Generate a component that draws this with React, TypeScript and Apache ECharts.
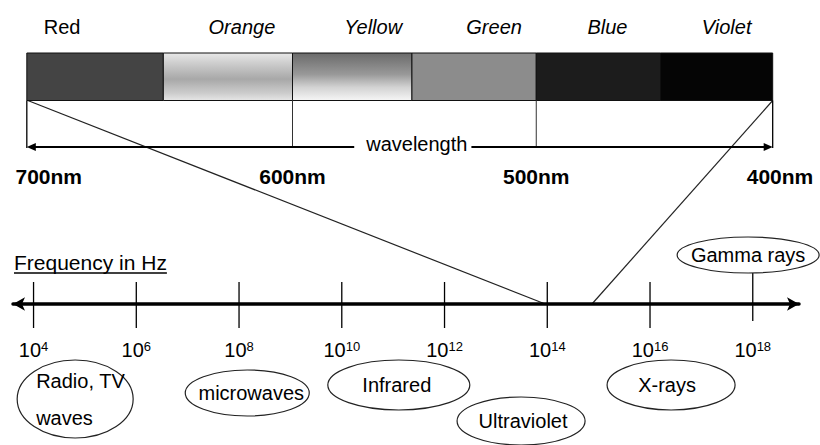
import React, { useEffect, useRef } from "react";
import * as echarts from "echarts";

// ---------- data ----------
const bandNames = ["Red", "Orange", "Yellow", "Green", "Blue", "Violet"];
const bandEdgesNm = [709, 653, 600, 551, 500, 449, 403];
const wavelengthLabelsNm = [700, 600, 500, 400];
const wavelengthDividersNm = [600, 500];
const wavelengthTitle = "wavelength";
const wavelengthTitleAtNm = 549;
const freqTitle = "Frequency in Hz";
const freqExponents = [4, 6, 8, 10, 12, 14, 16, 18];
const regionNames = ["Radio, TV\nwaves", "microwaves", "Infrared", "Ultraviolet", "X-rays", "Gamma rays"];
const regionAtExponent = [4.81, 8.16, 11.11, 13.49, 16.41, 17.91];
const visibleEndsExponent = [13.96, 14.87];

// ---------- styles / layout ----------
const FONT = "'Liberation Sans', Arial, Helvetica, sans-serif";
const bandFills: any[] = [
  "#444444",
  new echarts.graphic.LinearGradient(0, 0, 0, 1, [
    { offset: 0, color: "#e8e8e8" },
    { offset: 0.2, color: "#cfcfcf" },
    { offset: 0.55, color: "#a8a8a8" },
    { offset: 0.85, color: "#cdcdcd" },
    { offset: 1, color: "#e6e6e6" },
  ]),
  new echarts.graphic.LinearGradient(0, 0, 0, 1, [
    { offset: 0, color: "#6a6a6a" },
    { offset: 0.45, color: "#999999" },
    { offset: 0.72, color: "#d2d2d2" },
    { offset: 1, color: "#f6f6f6" },
  ]),
  "#8c8c8c",
  "#1c1c1c",
  "#050505",
];
const bandLabelItalic = [false, true, true, true, true, true];
const bandLabelDx = [-33, 14, 21, 20, 9, 10];
const regionStyle = [
  { dy: 95, rx: 58, ry: 39, tx: -39, align: "left" },
  { dy: 89, rx: 62, ry: 23, tx: 4, align: "center" },
  { dy: 81, rx: 71, ry: 25, tx: -2, align: "center" },
  { dy: 117, rx: 64, ry: 24, tx: 2, align: "center" },
  { dy: 81, rx: 64, ry: 25, tx: -4, align: "center" },
  { dy: -49, rx: 71, ry: 18, tx: 0, align: "center" },
];
const tickReach: Record<number, [number, number]> = { 18: [31, 17] };

function textWidth(text: string, font: string) {
  const c = document.createElement("canvas").getContext("2d");
  if (!c) return text.length * 10;
  c.font = font;
  return c.measureText(text).width;
}

export default function App() {
  const ref = useRef<HTMLDivElement>(null);

  useEffect(() => {
    document.body.style.margin = "0";
    const chart = echarts.init(ref.current!, null, { renderer: "svg" });

    const option: any = {
      animation: false,
      backgroundColor: "#ffffff",
      grid: [
        { left: 0, right: 40, top: 53, height: 95 },
        { left: 13, right: 21, top: 281, height: 46 },
      ],
      xAxis: [
        {
          gridIndex: 0,
          type: "value",
          min: 400,
          max: 720,
          inverse: true,
          axisLine: { show: false },
          axisTick: { show: false },
          splitLine: { show: false },
          axisLabel: {
            customValues: wavelengthLabelsNm,
            formatter: (v: number) => v + "nm",
            fontFamily: FONT,
            fontWeight: "bold",
            fontSize: 21,
            color: "#000",
            margin: 18,
          },
        },
        {
          gridIndex: 1,
          type: "value",
          min: 3.6,
          max: 18.9,
          axisLine: {
            show: true,
            onZero: true,
            symbol: ["arrow", "arrow"],
            symbolSize: [10, 12],
            lineStyle: { color: "#000", width: 3.5 },
          },
          axisTick: { show: false },
          axisLabel: { show: false },
          splitLine: { show: false },
        },
      ],
      yAxis: [
        { gridIndex: 0, type: "value", min: 0, max: 2, show: false },
        { gridIndex: 1, type: "value", min: -1, max: 1, show: false },
      ],
      series: [
        {
          type: "custom",
          name: "bands",
          xAxisIndex: 0,
          yAxisIndex: 0,
          clip: false,
          data: bandNames.map((n, i) => [bandEdgesNm[i], bandEdgesNm[i + 1], i]),
          renderItem: (params: any, api: any) => {
            const i = api.value(2);
            const p0 = api.coord([api.value(0), 2]);
            const p1 = api.coord([api.value(1), 1]);
            const x = Math.min(p0[0], p1[0]);
            const w = Math.abs(p1[0] - p0[0]);
            return {
              type: "group",
              children: [
                {
                  type: "rect",
                  shape: { x, y: p0[1], width: w, height: p1[1] - p0[1] },
                  style: { fill: bandFills[i], stroke: "#111", lineWidth: 1 },
                },
                {
                  type: "text",
                  style: {
                    text: bandNames[i],
                    x: x + w / 2 + bandLabelDx[i],
                    y: p0[1] - 26,
                    align: "center",
                    verticalAlign: "middle",
                    fontFamily: FONT,
                    fontSize: 20,
                    fontStyle: bandLabelItalic[i] ? "italic" : "normal",
                    fill: "#000",
                  },
                },
              ],
            };
          },
        },
        {
          type: "custom",
          name: "wavelength box",
          xAxisIndex: 0,
          yAxisIndex: 0,
          clip: false,
          data: [[bandEdgesNm[0], bandEdgesNm[bandEdgesNm.length - 1]]],
          renderItem: (params: any, api: any) => {
            const lt = api.coord([api.value(0), 1]);
            const lb = api.coord([api.value(0), 0]);
            const rt = api.coord([api.value(1), 1]);
            const rb = api.coord([api.value(1), 0]);
            const y = lb[1] - 1;
            const ls = { stroke: "#000", lineWidth: 1.3 };
            const children: any[] = [
              { type: "line", shape: { x1: lt[0], y1: lt[1], x2: lb[0], y2: lb[1] }, style: ls },
              { type: "line", shape: { x1: rt[0], y1: rt[1], x2: rb[0], y2: rb[1] }, style: ls },
            ];
            wavelengthDividersNm.forEach((d) => {
              const a = api.coord([d, 1]);
              const b = api.coord([d, 0]);
              children.push({
                type: "line",
                shape: { x1: a[0], y1: a[1], x2: b[0], y2: b[1] - 1 },
                style: { stroke: "#333", lineWidth: 1 },
              });
            });
            const font = `20px ${FONT}`;
            const tw = textWidth(wavelengthTitle, font);
            const tc = api.coord([wavelengthTitleAtNm, 0])[0];
            const gl = tc - tw / 2 - 12;
            const gr = tc + tw / 2 + 4;
            children.push(
              { type: "line", shape: { x1: lb[0] + 6, y1: y, x2: gl, y2: y }, style: { stroke: "#000", lineWidth: 1.8 } },
              { type: "line", shape: { x1: gr, y1: y, x2: rb[0] - 6, y2: y }, style: { stroke: "#000", lineWidth: 1.8 } },
              {
                type: "polygon",
                shape: { points: [[lb[0], y], [lb[0] + 9, y - 4], [lb[0] + 9, y + 4]] },
                style: { fill: "#000" },
              },
              {
                type: "polygon",
                shape: { points: [[rb[0], y], [rb[0] - 9, y - 4], [rb[0] - 9, y + 4]] },
                style: { fill: "#000" },
              },
              {
                type: "text",
                style: {
                  text: wavelengthTitle,
                  x: tc,
                  y: y - 3,
                  align: "center",
                  verticalAlign: "middle",
                  fontFamily: FONT,
                  fontSize: 20,
                  fill: "#000",
                },
              }
            );
            return { type: "group", children };
          },
        },
        {
          type: "custom",
          name: "frequency ticks",
          xAxisIndex: 1,
          yAxisIndex: 1,
          clip: false,
          data: freqExponents.map((e) => [e, 0]),
          renderItem: (params: any, api: any) => {
            const e = api.value(0);
            const p = api.coord([e, 0]);
            const [up, down] = tickReach[e] || [22, 24];
            return {
              type: "group",
              children: [
                {
                  type: "line",
                  shape: { x1: p[0], y1: p[1] - up, x2: p[0], y2: p[1] + down },
                  style: { stroke: "#000", lineWidth: 1.3 },
                },
                {
                  type: "text",
                  style: {
                    text: "10{s|" + e + "}",
                    x: p[0],
                    y: p[1] + 46,
                    align: "center",
                    verticalAlign: "middle",
                    fontFamily: FONT,
                    fontSize: 20,
                    lineHeight: 20,
                    fill: "#000",
                    rich: {
                      s: { fontFamily: FONT, fontSize: 13, lineHeight: 13, verticalAlign: "top", fill: "#000" },
                    },
                  },
                },
              ],
            };
          },
        },
        {
          type: "custom",
          name: "regions",
          xAxisIndex: 1,
          yAxisIndex: 1,
          clip: false,
          data: regionAtExponent.map((e, i) => [e, 0, i]),
          renderItem: (params: any, api: any) => {
            const i = api.value(2);
            const p = api.coord([api.value(0), 0]);
            const st = regionStyle[i];
            const cx = p[0];
            const cy = p[1] + st.dy;
            return {
              type: "group",
              children: [
                {
                  type: "ellipse",
                  shape: { cx, cy, rx: st.rx, ry: st.ry },
                  style: { fill: "#fff", stroke: "#222", lineWidth: 1.2 },
                },
                {
                  type: "text",
                  style: {
                    text: regionNames[i],
                    x: cx + st.tx,
                    y: cy,
                    align: st.align,
                    verticalAlign: "middle",
                    fontFamily: FONT,
                    fontSize: 20,
                    lineHeight: 37,
                    fill: "#000",
                  },
                },
              ],
            };
          },
        },
      ],
    };

    chart.setOption(option);

    const redTop = chart.convertToPixel({ gridIndex: 0 }, [bandEdgesNm[0], 1]) as number[];
    const violetTop = chart.convertToPixel({ gridIndex: 0 }, [bandEdgesNm[bandEdgesNm.length - 1], 1]) as number[];
    const redEnd = chart.convertToPixel({ gridIndex: 1 }, [visibleEndsExponent[0], 0]) as number[];
    const violetEnd = chart.convertToPixel({ gridIndex: 1 }, [visibleEndsExponent[1], 0]) as number[];
    const axisY = redEnd[1];
    const titleFont = `21px ${FONT}`;
    const tw = textWidth(freqTitle, titleFont);

    chart.setOption({
      graphic: [
        {
          type: "line",
          shape: { x1: redTop[0] + 1, y1: redTop[1], x2: redEnd[0], y2: redEnd[1] },
          style: { stroke: "#222", lineWidth: 1.2 },
        },
        {
          type: "line",
          shape: { x1: violetTop[0], y1: violetTop[1], x2: violetEnd[0], y2: violetEnd[1] },
          style: { stroke: "#222", lineWidth: 1.2 },
        },
        {
          type: "text",
          x: 14,
          y: axisY - 42,
          style: {
            text: freqTitle,
            align: "left",
            verticalAlign: "middle",
            fontFamily: FONT,
            fontSize: 21,
            fill: "#000",
          },
        },
        {
          type: "line",
          shape: { x1: 14, y1: axisY - 31, x2: 14 + tw, y2: axisY - 31 },
          style: { stroke: "#000", lineWidth: 1.5 },
        },
      ],
    });

    return () => chart.dispose();
  }, []);

  return (
    <div
      ref={ref}
      style={{ position: "fixed", left: 0, top: 0, width: 820, height: 445, background: "#fff" }}
    />
  );
}
